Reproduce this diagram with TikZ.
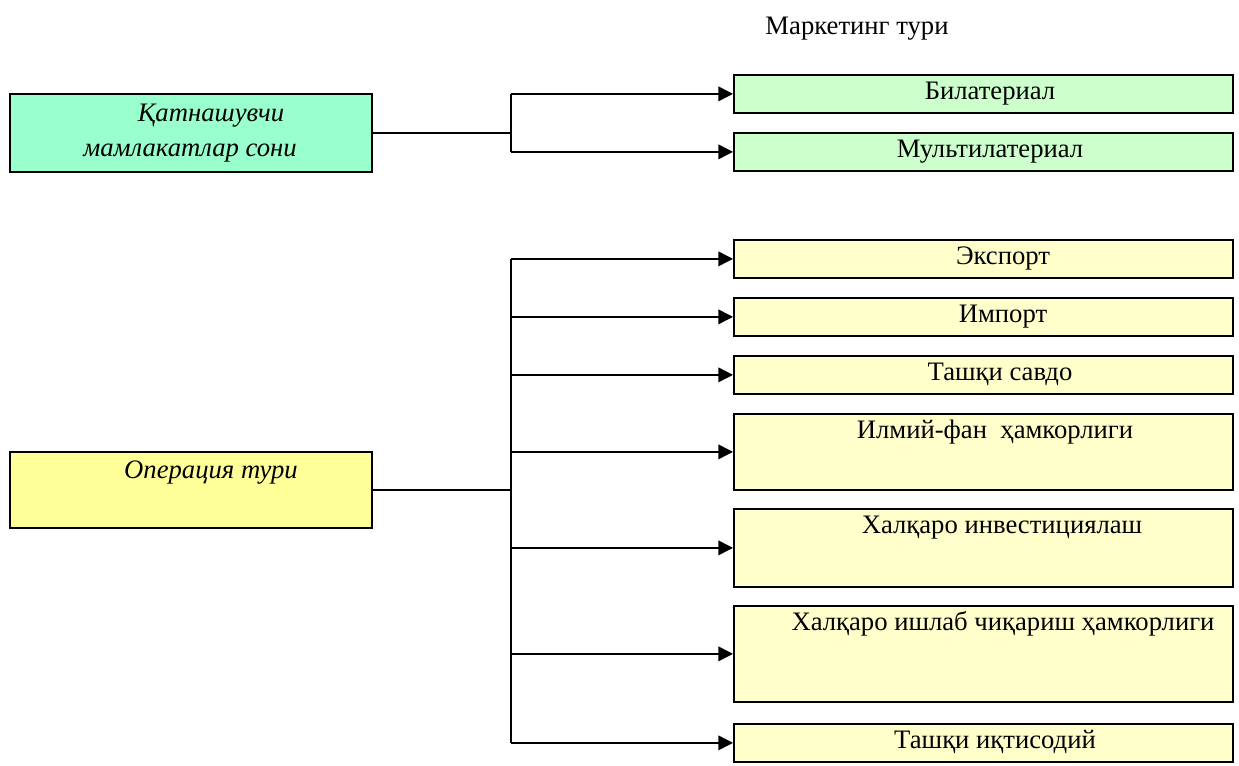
\documentclass[tikz,border=0pt]{standalone}
\usepackage{fontspec}
\setmainfont{Liberation Serif}
\usetikzlibrary{arrows.meta,positioning}

\definecolor{leftgreen}{HTML}{99FFCC}
\definecolor{rightgreen}{HTML}{CCFFCC}
\definecolor{leftyellow}{HTML}{FFFF99}
\definecolor{rightyellow}{HTML}{FFFFCC}

\tikzset{
  box/.style 2 args = {draw, line width=1.3pt, anchor=north west, inner sep=0pt,
    minimum width=#1*0.75pt, minimum height=#2*0.75pt},
  txt/.style = {anchor=base, inner sep=0pt, font=\fontsize{20}{24}\selectfont},
  itxt/.style = {txt, font=\fontsize{20}{24}\selectfont\itshape},
  link/.style = {line width=1.1pt},
  arr/.style = {line width=1.1pt, -{Triangle[length=11pt,width=11pt]}}
}

\begin{document}
\begin{tikzpicture}[x=0.75pt, y=-0.75pt]
\useasboundingbox (0,0) rectangle (1239,765);

\node[txt] (title) at (857,34) {Маркетинг тури};

\node[box={362}{78}, fill=leftgreen] (num) at (9,93) {};
\node[itxt] (num-a) at (211,121) {Қатнашувчи};
\node[itxt] (num-b) at (190,156) {мамлакатлар сони};

\node[box={499}{38}, fill=rightgreen] (bil) at (733,74) {};
\node[box={499}{38}, fill=rightgreen] (mult) at (733,132) {};
\node[txt] (t-bil) at (990,99.5) {Билатериал};
\node[txt] (t-mult) at (990,157.5) {Мультилатериал};

\node[box={362}{76}, fill=leftyellow] (op) at (9,451) {};
\node[itxt] (t-op) at (211,478) {Операция тури};

\node[box={499}{38}, fill=rightyellow] (exp) at (733,239) {};
\node[box={499}{38}, fill=rightyellow] (imp) at (733,297) {};
\node[box={499}{38}, fill=rightyellow] (trade) at (733,355) {};
\node[box={499}{76}, fill=rightyellow] (sci) at (733,413) {};
\node[box={499}{78}, fill=rightyellow] (inv) at (733,508) {};
\node[box={499}{96}, fill=rightyellow] (prod) at (733,605) {};
\node[box={499}{38}, fill=rightyellow] (econ) at (733,723) {};

\node[txt] (t-exp) at (1003,264.5) {Экспорт};
\node[txt] (t-imp) at (1003,322.5) {Импорт};
\node[txt] (t-trade) at (1000,380.5) {Ташқи савдо};
\node[txt] (t-sci) at (995,438.5) {Илмий-фан\ \ ҳамкорлиги};
\node[txt] (t-inv) at (1002,533.5) {Халқаро инвестициялаш};
\node[txt] (t-prod) at (1003,630.5) {Халқаро ишлаб чиқариш ҳамкорлиги};
\node[txt] (t-econ) at (995,748.5) {Ташқи иқтисодий};

\coordinate (bus) at (511,0);

\draw[link] (num.east) -- (num.east -| bus);
\draw[link] (bus |- bil.west) -- (bus |- mult.west);
\foreach \n in {bil,mult}
  \draw[arr] (bus |- \n.west) -- (\n.west);

\draw[link] (op.east) -- (op.east -| bus);
\draw[link] (bus |- exp.west) -- (bus |- econ.west);
\foreach \n in {exp,imp,trade,sci,inv,prod,econ}
  \draw[arr] (bus |- \n.west) -- (\n.west);
\end{tikzpicture}
\end{document}
